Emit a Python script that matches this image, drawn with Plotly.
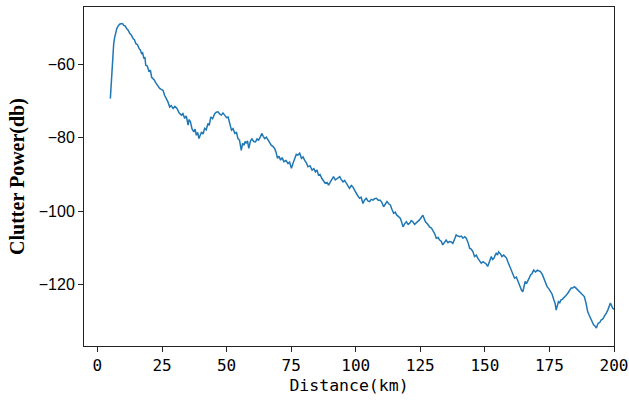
import plotly.graph_objects as go

distance_km = [
    5.0, 5.3, 5.7, 6.0, 6.3, 6.7, 7.1, 7.5, 8.0, 8.6, 9.3, 9.8, 10.2, 10.8, 11.3, 11.9,
    12.5, 13.1, 13.8, 14.3, 14.9, 15.5, 16.1, 16.6, 17.1, 17.5, 18.0, 18.4, 18.7, 19.3,
    20.0, 20.5, 21.0, 21.5, 22.0, 22.6, 23.1, 23.6, 24.1, 24.7, 25.4, 26.0, 26.7, 27.3,
    28.0, 28.6, 29.3, 30.0, 30.8, 31.6, 32.5, 33.1, 33.8, 34.4, 35.1, 35.5, 36.0, 36.6,
    37.3, 37.8, 38.3, 38.8, 39.3, 39.8, 40.3, 40.9, 41.5, 42.1, 42.8, 43.3, 43.9, 44.6,
    45.4, 46.0, 46.7, 47.3, 48.0, 48.6, 49.3, 50.0, 50.6, 51.3, 51.9, 52.5, 53.2, 53.8,
    54.4, 55.0, 55.7, 56.2, 56.8, 57.2, 57.7, 58.1, 58.6, 59.2, 59.8, 60.5, 61.2, 61.8,
    62.4, 63.0, 63.7, 64.2, 64.8, 65.4, 66.0, 66.7, 67.3, 68.0, 68.6, 69.2, 69.7, 70.3,
    70.9, 71.5, 72.2, 73.0, 73.8, 74.4, 75.1, 75.8, 76.4, 77.0, 77.6, 78.3, 79.0, 79.6,
    80.2, 80.9, 81.5, 82.3, 83.1, 83.8, 84.4, 85.0, 85.6, 86.2, 86.9, 87.5, 88.2, 88.9,
    89.5, 90.2, 90.8, 91.4, 92.1, 92.9, 93.8, 94.4, 95.1, 95.7, 96.4, 97.0, 97.6, 98.3,
    98.9, 99.5, 100.2, 100.8, 101.5, 102.1, 102.8, 103.4, 104.1, 104.7, 105.4, 106.0,
    106.7, 107.3, 108.0, 108.7, 109.5, 110.1, 110.8, 111.5, 112.1, 112.8, 113.4, 114.0,
    114.7, 115.3, 115.9, 116.6, 117.3, 117.8, 118.3, 119.0, 119.6, 120.3, 120.9, 121.5,
    122.1, 122.8, 123.4, 124.0, 124.7, 125.3, 126.0, 126.5, 127.0, 127.8, 128.6, 129.3,
    129.9, 130.6, 131.2, 131.9, 132.5, 133.1, 133.7, 134.4, 135.0, 135.7, 136.3, 137.0,
    137.6, 138.3, 138.9, 139.6, 140.2, 140.9, 141.5, 142.2, 142.8, 143.5, 144.1, 144.8,
    145.4, 146.0, 146.7, 147.3, 148.0, 148.6, 149.3, 149.9, 150.5, 151.1, 151.8, 152.5,
    153.0, 153.5, 154.0, 154.4, 154.9, 155.3, 156.0, 156.6, 157.3, 157.9, 158.4, 158.9,
    159.6, 160.2, 160.9, 161.5, 162.2, 162.8, 163.3, 163.8, 164.2, 164.7, 165.2, 165.6,
    166.1, 166.6, 167.2, 167.7, 168.3, 168.9, 169.6, 170.3, 170.9, 171.5, 172.2, 172.8,
    173.5, 174.1, 174.8, 175.4, 176.0, 176.7, 177.2, 177.6, 178.0, 178.5, 179.0, 179.5,
    180.1, 180.8, 181.4, 182.1, 182.8, 183.4, 184.0, 184.7, 185.3, 186.0, 186.7, 187.3,
    187.9, 188.5, 189.2, 189.8, 190.4, 191.1, 191.6, 192.1, 192.7, 193.2, 193.6, 193.9,
    194.5, 195.0, 195.6, 196.3, 197.0, 197.6, 198.1, 198.6, 199.1, 199.5, 200.0,
]

clutter_power_db = [
    -69.3, -65.5, -61.6, -57.5, -54.3, -52.5, -51.1, -50.2, -49.5, -49.0, -48.8, -48.9, -49.3, -49.5, -50.2, -50.6,
    -51.5, -51.9, -52.9, -53.2, -54.3, -54.6, -55.6, -56.0, -57.0, -56.8, -58.4, -58.0, -60.2, -60.4,
    -62.0, -61.5, -63.5, -63.8, -64.2, -65.0, -65.6, -65.9, -66.5, -66.8, -67.0, -68.4, -69.3, -70.2,
    -71.6, -71.2, -72.0, -71.4, -72.0, -73.2, -73.8, -73.4, -74.7, -74.0, -76.5, -75.0, -75.6, -77.5,
    -78.4, -77.6, -79.3, -78.5, -80.2, -79.4, -78.4, -79.0, -77.4, -77.8, -76.1, -76.6, -74.3, -74.8,
    -73.4, -73.0, -72.9, -73.5, -73.8, -73.2, -73.8, -74.5, -74.3, -76.5, -77.9, -77.5, -78.8, -78.4,
    -80.2, -80.6, -83.4, -81.5, -82.0, -81.0, -81.5, -80.8, -82.9, -81.0, -80.2, -81.0, -81.1, -80.3,
    -80.6, -79.8, -78.8, -79.6, -80.2, -79.8, -80.6, -81.2, -82.0, -82.4, -82.9, -84.0, -85.6, -85.0,
    -86.1, -85.4, -86.5, -86.2, -87.0, -86.6, -88.3, -86.8, -85.6, -84.5, -84.7, -84.2, -85.6, -85.2,
    -86.1, -86.8, -87.9, -87.6, -88.8, -88.4, -89.3, -88.8, -90.2, -90.0, -91.1, -91.6, -92.4, -92.2,
    -92.9, -92.0, -91.1, -90.6, -91.5, -91.0, -90.6, -91.4, -92.0, -91.6, -92.4, -93.0, -93.8, -93.0,
    -93.4, -94.2, -95.2, -95.8, -96.5, -96.2, -97.9, -97.0, -96.5, -97.2, -97.4, -96.8,
    -97.0, -96.6, -96.5, -97.0, -97.0, -97.6, -98.8, -98.0, -97.4, -98.0, -98.3, -99.5,
    -100.6, -100.3, -101.1, -101.5, -102.0, -103.0, -104.3, -103.4, -102.9, -103.6, -103.3, -102.6,
    -102.9, -103.6, -103.3, -102.8, -102.4, -101.8, -101.1, -102.0, -102.9, -103.5, -104.3, -104.6,
    -105.2, -106.2, -107.4, -107.2, -107.9, -108.2, -109.2, -108.4, -107.9, -108.6, -108.3, -108.4,
    -108.8, -107.6, -106.5, -106.8, -107.0, -106.8, -107.4, -107.0, -107.4, -108.6, -110.1, -110.4,
    -111.1, -112.4, -112.0, -112.9, -113.5, -114.2, -113.8, -114.2, -114.4, -115.1, -113.6, -112.4,
    -113.2, -112.9, -112.0, -111.5, -112.0, -111.1, -111.6, -112.4, -112.0, -112.4, -112.8, -113.8,
    -115.0, -116.5, -117.6, -118.3, -118.0, -119.2, -120.0, -121.0, -121.6, -122.0, -120.4, -119.2,
    -119.8, -118.8, -118.2, -117.4, -117.0, -116.1, -116.6, -116.1, -116.4, -116.5, -117.2, -118.3,
    -119.2, -120.6, -121.2, -122.0, -122.6, -124.2, -125.2, -127.0, -125.6, -124.7, -125.0, -124.2,
    -124.0, -123.3, -123.0, -122.4, -121.8, -121.0, -121.0, -120.6, -121.0, -121.5, -121.8, -122.4,
    -122.8, -123.3, -125.2, -127.4, -128.4, -129.7, -130.3, -131.0, -131.4, -131.9, -131.0, -130.6,
    -130.4, -129.7, -129.5, -128.8, -127.8, -127.0, -126.0, -125.1, -125.8, -126.5, -126.8,
]

x_tick_values = [0, 25, 50, 75, 100, 125, 150, 175, 200]
y_tick_values = [-60, -80, -100, -120]

fig = go.Figure()
fig.add_trace(go.Scatter(
    x=distance_km,
    y=clutter_power_db,
    mode="lines",
    line=dict(color="#1f77b4", width=1.5),
    showlegend=False,
    cliponaxis=True,
))

axis_common = dict(
    showline=True,
    mirror=True,
    linecolor="#222222",
    linewidth=1,
    ticks="outside",
    ticklen=5,
    tickwidth=1,
    tickcolor="#222222",
    showgrid=False,
    zeroline=False,
    automargin=False,
)

fig.update_layout(
    width=629,
    height=402,
    margin=dict(l=84, r=15, t=7, b=56),
    paper_bgcolor="white",
    plot_bgcolor="white",
    xaxis=dict(
        range=[-5.2, 200],
        tickvals=x_tick_values,
        tickfont=dict(family="DejaVu Sans Mono", size=16, color="black"),
        title=dict(text="Distance(km)", font=dict(family="DejaVu Sans Mono", size=16.5, color="black"), standoff=5),
        **axis_common,
    ),
    yaxis=dict(
        range=[-136.8, -44.3],
        tickvals=y_tick_values,
        tickfont=dict(family="Liberation Sans", size=16, color="black"),
        title=dict(text="<b>Clutter Power(db)</b>", font=dict(family="Liberation Serif", size=20, color="black"), standoff=8),
        **axis_common,
    ),
)

fig.write_html(
    "out.html",
    config={"displayModeBar": False},
    post_script="document.body.style.margin='0';document.body.style.overflow='hidden';",
)
